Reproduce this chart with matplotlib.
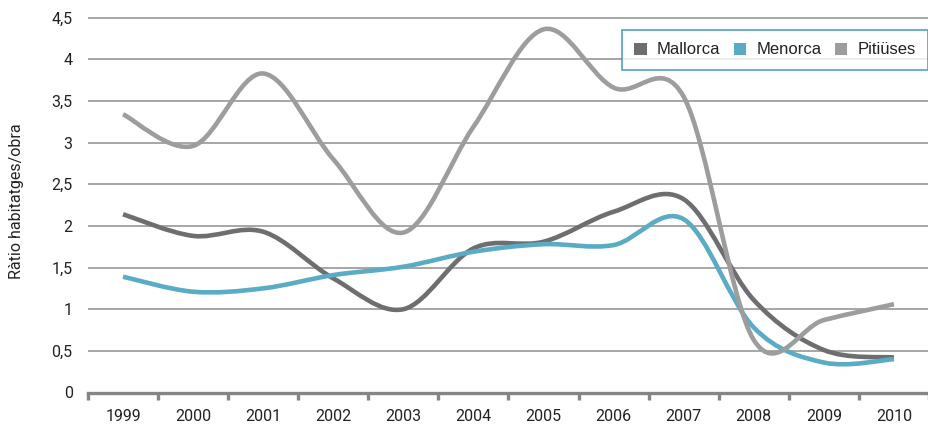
import numpy as np
import matplotlib
matplotlib.use("Agg")
import matplotlib.pyplot as plt
from matplotlib.path import Path
from matplotlib.patches import PathPatch, Patch

# data
years = ["1999", "2000", "2001", "2002", "2003", "2004",
         "2005", "2006", "2007", "2008", "2009", "2010"]
mallorca = [2.14, 1.88, 1.93, 1.37, 1.00, 1.73, 1.81, 2.17, 2.32, 1.11, 0.51, 0.42]
menorca = [1.39, 1.21, 1.25, 1.41, 1.51, 1.69, 1.78, 1.77, 2.08, 0.78, 0.36, 0.40]
pitiuses = [3.34, 2.96, 3.83, 2.80, 1.92, 3.19, 4.36, 3.66, 3.55, 0.63, 0.87, 1.06]
yticks = [0, 0.5, 1, 1.5, 2, 2.5, 3, 3.5, 4, 4.5]
ytick_labels = ["0", "0,5", "1", "1,5", "2", "2,5", "3", "3,5", "4", "4,5"]

series = [("Mallorca", mallorca, "#6d6e70"),
          ("Menorca", menorca, "#5aacc4"),
          ("Pitiüses", pitiuses, "#9d9d9e")]

AX_FONT = ["Roboto", "DejaVu Sans"]
LEG_FONT = ["Liberation Sans", "DejaVu Sans"]


# Smoothed line like the spreadsheet one: cubic bezier through every point
def smooth_path(xs, ys):
    pts = np.column_stack([xs, ys]).astype(float)
    n = len(pts)
    verts = [pts[0]]
    codes = [Path.MOVETO]
    for i in range(n - 1):
        p0 = pts[max(i - 1, 0)]
        p1 = pts[i]
        p2 = pts[i + 1]
        p3 = pts[min(i + 2, n - 1)]
        c1 = p1 + (p2 - p0) / 6.0
        c2 = p2 - (p3 - p1) / 6.0
        verts += [c1, c2, p2]
        codes += [Path.CURVE4] * 3
    return Path(verts, codes)


fig = plt.figure(figsize=(9.29, 4.24), dpi=100)
ax = fig.add_axes([88 / 929, 1 - 392.5 / 424, 1 - 88 / 929, (392.5 - 13.5) / 424])

x = np.arange(len(years))
for name, vals, col in series:
    patch = PathPatch(smooth_path(x, vals), facecolor="none", edgecolor=col,
                      lw=3.3, capstyle="butt", joinstyle="round", zorder=3)
    ax.add_patch(patch)

ax.set_xlim(-0.5, len(years) - 0.5)
ax.set_ylim(0, 4.55)

# gridlines
for v in yticks[1:]:
    ax.axhline(v, color="#8e8e8e", lw=1.1, zorder=1)

for s in ["left", "right", "top"]:
    ax.spines[s].set_visible(False)
ax.spines["bottom"].set_color("#858585")
ax.spines["bottom"].set_linewidth(2.4)
ax.spines["bottom"].set_zorder(4)

ax.set_yticks(yticks)
ax.set_yticklabels(ytick_labels, fontfamily=AX_FONT, fontsize=11.5, color="#222222")
ax.tick_params(axis="y", length=0, pad=11)

ax.set_xticks(x)
ax.set_xticklabels(years, fontfamily=AX_FONT, fontsize=11.5, color="#222222")
ax.set_xticks(np.arange(len(years) + 1) - 0.5, minor=True)
ax.tick_params(axis="x", which="major", length=0, pad=12)
ax.tick_params(axis="x", which="minor", length=5, width=2.4, color="#858585")

fig.text(17 / 929, 1 - 201 / 424, "Ràtio habitatges/obra", rotation=90,
         ha="center", va="center", fontfamily=AX_FONT, fontsize=11.5, color="#222222")

handles = [Patch(facecolor=col, edgecolor="none", label=name) for name, _, col in series]
leg = fig.legend(handles=handles, loc="upper right", ncol=3,
                 bbox_to_anchor=(928 / 929, 1 - 30 / 424), borderaxespad=0,
                 frameon=True, fancybox=False, handlelength=0.75, handleheight=0.75,
                 handletextpad=0.6, columnspacing=0.8, borderpad=0.75,
                 prop={"family": LEG_FONT, "size": 12})
leg.get_frame().set_edgecolor("#2a8aa8")
leg.get_frame().set_linewidth(1.2)
for t in leg.get_texts():
    t.set_color("#222222")

fig.savefig("out.png", dpi=100)
